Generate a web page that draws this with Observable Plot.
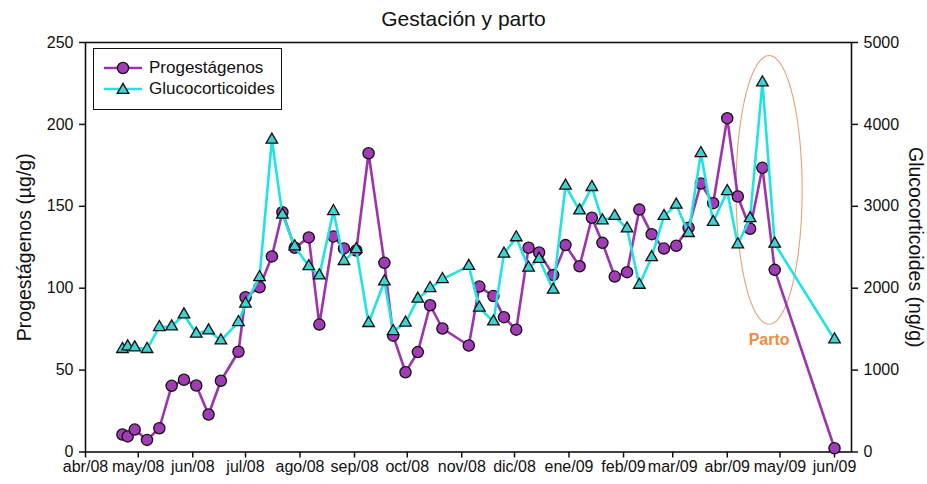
<!DOCTYPE html>
<html>
<head>
<meta charset="utf-8">
<script src="https://cdn.jsdelivr.net/npm/d3@7"></script>
<script src="https://cdn.jsdelivr.net/npm/@observablehq/plot@0.6"></script>
<style>
  html, body { margin: 0; padding: 0; background: #fff; }
  #wrap { position: relative; width: 927px; height: 484px; font-family: "Liberation Sans", Arial, sans-serif; color: #111; }
  #title { position: absolute; left: 0; top: 6px; width: 927px; text-align: center; font-size: 21px; line-height: 26px; }
  #chart { position: absolute; left: 0; top: 30px; }
  #legend { position: absolute; left: 93px; top: 48px; width: 187px; height: 60px; border: 1.5px solid #111; background: #fff; }
  .lrow { position: absolute; left: 0; height: 20px; display: flex; align-items: center; font-size: 17px; }
  .lrow svg { margin-left: 10px; margin-right: 7px; }
</style>
</head>
<body>
<div id="wrap">
  <div id="title"></div>
  <div id="chart"></div>
  <div id="legend"></div>
</div>
<script>
// ---------- data ----------
const title = "Gestación y parto";
const seriesNames = ["Progestágenos", "Glucocorticoides"];
const yLeftLabel = "Progestágenos (µg/g)";
const yRightLabel = "Glucocorticoides (ng/g)";

const dates = ["2008-04-22","2008-04-25","2008-04-29","2008-05-06","2008-05-13","2008-05-20","2008-05-27","2008-06-03","2008-06-10","2008-06-17","2008-06-27","2008-07-01","2008-07-09","2008-07-16","2008-07-22","2008-07-29","2008-08-06","2008-08-12","2008-08-20","2008-08-26","2008-09-02","2008-09-09","2008-09-18","2008-09-23","2008-09-30","2008-10-07","2008-10-14","2008-10-21","2008-11-05","2008-11-11","2008-11-19","2008-11-25","2008-12-02","2008-12-09","2008-12-15","2008-12-23","2008-12-30","2009-01-07","2009-01-14","2009-01-20","2009-01-27","2009-02-03","2009-02-10","2009-02-17","2009-02-24","2009-03-03","2009-03-10","2009-03-17","2009-03-24","2009-04-01","2009-04-07","2009-04-14","2009-04-21","2009-04-28","2009-06-01"];

const progestagenos = [10.7,9.5,13.7,7.4,14.5,40.4,44.1,40.6,22.9,43.5,61.2,94.5,100.6,119.4,146.4,124.7,131,77.8,131.6,124.3,123,182.4,115.5,71,48.7,61,89.6,75.4,65,101,95.2,82.3,74.7,124.7,121.8,108,126.3,113.4,143,127.7,107.1,109.8,148,133,124.2,125.9,136.9,163.9,151.9,203.8,156,136.3,173.5,111.2,2.3];

const glucocorticoides = [1256,1288,1276,1256,1524,1532,1679,1443,1483,1361,1585,1810,2134,3812,2896,2510,2268,2155,2940,2330,2476,1573,2082,1475,1577,1870,2000,2110,2270,1762,1592,2420,2620,2250,2356,1980,3250,2948,3234,2826,2880,2728,2040,2378,2880,3018,2672,3648,2808,3184,2534,2854,4512,2542,1374];

const monthTicks = ["2008-04-01","2008-05-01","2008-06-01","2008-07-01","2008-08-01","2008-09-01","2008-10-01","2008-11-01","2008-12-01","2009-01-01","2009-02-01","2009-03-01","2009-04-01","2009-05-01","2009-06-01"];
const monthLabels = ["abr/08","may/08","jun/08","jul/08","ago/08","sep/08","oct/08","nov/08","dic/08","ene/09","feb/09","mar/09","abr/09","may/09","jun/09"];
const xDomain = ["2008-04-01", "2009-06-10T16:00"];

const leftTicks = [0, 50, 100, 150, 200, 250];
const rightTicks = [0, 1000, 2000, 3000, 4000, 5000];

// Parto annotation (ellipse centre, radii in days / left-axis units, label)
const partoCentreDate = "2009-04-24T19:00";
const partoCentreValue = 160;
const partoRadiusDays = 18.8;
const partoRadiusValue = 82;
const partoLabel = "Parto";
const partoLabelValue = 68.7;

// ---------- build ----------
const ratio = rightTicks[rightTicks.length - 1] / leftTicks[leftTicks.length - 1];
const rows = dates.map((d, i) => ({date: new Date(d), prog: progestagenos[i], gluco: glucocorticoides[i]}));
const tickDates = monthTicks.map(d => new Date(d));
const labelByTime = new Map(tickDates.map((d, i) => [d.getTime(), monthLabels[i]]));

const pc = new Date(partoCentreDate).getTime();
const ellipse = d3.range(0, 360, 3).map(a => {
  const t = a * Math.PI / 180;
  return {x: new Date(pc + Math.cos(t) * partoRadiusDays * 864e5), y: partoCentreValue + Math.sin(t) * partoRadiusValue};
});

const PURPLE_LINE = "#9c34ae", PURPLE_FILL = "#a23bb6";
const CYAN_LINE = "#22e3e3", CYAN_FILL = "#3fd2d2";
const INK = "#111";
const TRI_R = 4.3;

const TITLE_H = 30;
const H = 484 - TITLE_H;
const plotBottom = 451.5 - TITLE_H;

const chart = Plot.plot({
  width: 927,
  height: H,
  marginLeft: 85,
  marginRight: 76,
  marginTop: 12,
  marginBottom: H - plotBottom,
  style: {fontFamily: "'Liberation Sans', Arial, sans-serif", fontSize: "16px", color: INK, background: "transparent", overflow: "visible"},
  x: {type: "utc", domain: xDomain.map(d => new Date(d))},
  y: {domain: [leftTicks[0], leftTicks[leftTicks.length - 1]]},
  marks: [
    Plot.axisX({ticks: tickDates, tickFormat: d => labelByTime.get(d.getTime()), tickSize: 6, tickPadding: 3, label: null, fontSize: 16, strokeWidth: 1.5}),
    Plot.axisY({anchor: "left", ticks: leftTicks, tickSize: 6, tickPadding: 6, label: null, fontSize: 16, strokeWidth: 1.5}),
    Plot.axisY({anchor: "right", ticks: rightTicks.map(v => v / ratio), tickFormat: d => String(Math.round(d * ratio)), tickSize: 6, tickPadding: 6, label: null, fontSize: 16, strokeWidth: 1.5}),
    Plot.frame({stroke: INK, strokeWidth: 1.6}),
    Plot.text([yLeftLabel], {text: d => d, frameAnchor: "left", textAnchor: "middle", dx: -61, rotate: -90, fontSize: 19.5, fill: INK}),
    Plot.text([yRightLabel], {text: d => d, frameAnchor: "right", textAnchor: "middle", dx: 64, rotate: 90, fontSize: 19.5, fill: INK}),
    Plot.line(ellipse, {x: "x", y: "y", curve: "linear-closed", stroke: "#e3a376", strokeWidth: 1.1}),
    Plot.text([partoLabel], {x: () => new Date(pc), y: () => partoLabelValue, text: d => d, fill: "#f28a42", fontWeight: "bold", fontSize: 16}),
    Plot.lineY(rows, {x: "date", y: "prog", stroke: PURPLE_LINE, strokeWidth: 2.6}),
    Plot.dot(rows, {x: "date", y: "prog", r: 5.6, fill: PURPLE_FILL, stroke: INK, strokeWidth: 1.3}),
    Plot.lineY(rows, {x: "date", y: d => d.gluco / ratio, stroke: CYAN_LINE, strokeWidth: 2.6}),
    Plot.dot(rows, {x: "date", y: d => d.gluco / ratio, symbol: "triangle", r: TRI_R, fill: CYAN_FILL, stroke: INK, strokeWidth: 1.3})
  ]
});
document.getElementById("chart").appendChild(chart);
document.getElementById("title").textContent = title;

// legend
const legend = document.getElementById("legend");
const entries = [
  {name: seriesNames[0], line: PURPLE_LINE, fill: PURPLE_FILL, sym: "circle"},
  {name: seriesNames[1], line: CYAN_LINE, fill: CYAN_FILL, sym: "triangle"}
];
entries.forEach((e, i) => {
  const row = document.createElement("div");
  row.className = "lrow";
  row.style.top = (9 + i * 21) + "px";
  const marker = e.sym === "circle"
    ? `<circle cx="19" cy="10" r="5.6" fill="${e.fill}" stroke="${INK}" stroke-width="1.3"/>`
    : `<path d="${d3.symbol(d3.symbolTriangle, Math.PI * TRI_R * TRI_R)()}" transform="translate(19,11)" fill="${e.fill}" stroke="${INK}" stroke-width="1.3"/>`;
  row.innerHTML = `<svg width="38" height="20"><line x1="0" x2="38" y1="10" y2="10" stroke="${e.line}" stroke-width="2.6"/>${marker}</svg><span>${e.name}</span>`;
  legend.appendChild(row);
});
</script>
</body>
</html>
